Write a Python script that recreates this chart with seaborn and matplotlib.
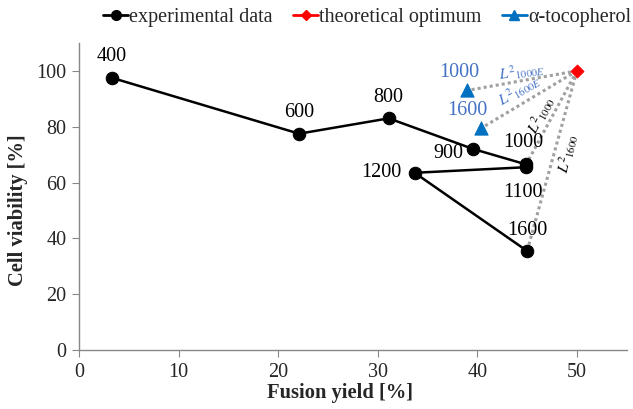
import matplotlib
matplotlib.use("Agg")
import matplotlib.pyplot as plt
import seaborn as sns
import pandas as pd
from matplotlib.lines import Line2D

# experimental data (order of the connecting line)
exp_labels = ["400", "600", "800", "900", "1000", "1100", "1200", "1600"]
exp_yield = [3.3, 22.1, 31.1, 39.6, 44.9, 44.9, 33.7, 45.0]
exp_viab = [97.5, 77.5, 83.0, 72.0, 66.5, 65.5, 63.5, 35.5]

# theoretical optimum
opt_yield = [50.0]
opt_viab = [100.0]

# alpha-tocopherol
toc_labels = ["1000", "1600"]
toc_yield = [39.0, 40.4]
toc_viab = [93.0, 79.5]

sns.set_style("white")
plt.rcParams["font.family"] = ["Liberation Serif", "DejaVu Serif"]
plt.rcParams["mathtext.fontset"] = "stix"

BLUE = "#0070C0"
TXTBLUE = "#4472C4"
GREY = "#A0A0A0"

df_exp = pd.DataFrame({"x": exp_yield, "y": exp_viab, "lab": exp_labels})
df_opt = pd.DataFrame({"x": opt_yield, "y": opt_viab})
df_toc = pd.DataFrame({"x": toc_yield, "y": toc_viab, "lab": toc_labels})

fig = plt.figure(figsize=(6.33, 4.09), dpi=100)
ax = fig.add_axes([0.125, 0.144, 0.865, 0.751])

# dotted distance lines from optimum
for xx, yy in list(zip(toc_yield, toc_viab)) + [(exp_yield[4], exp_viab[4]), (exp_yield[7], exp_viab[7])]:
    ax.plot([opt_yield[0], xx], [opt_viab[0], yy], color=GREY, lw=2.2,
            linestyle=(0, (1, 1)), zorder=1)

sns.lineplot(data=df_exp, x="x", y="y", sort=False, estimator=None, ax=ax,
             color="black", lw=1.8, marker="o", markersize=9,
             markeredgecolor="black", zorder=3)
sns.scatterplot(data=df_opt, x="x", y="y", ax=ax, marker="D", s=45,
                color="red", edgecolor="red", zorder=4)
sns.scatterplot(data=df_toc, x="x", y="y", ax=ax, marker="^", s=90,
                color=BLUE, edgecolor=BLUE, zorder=4)

# point labels (offsets in points)
offs = {"400": (0, 15.5), "600": (0, 15), "800": (0, 15), "900": (-18, -3.5),
        "1000": (-2, 16), "1100": (-2, -18), "1200": (-24, 0), "1600": (0, 15)}
for xx, yy, lab in zip(exp_yield, exp_viab, exp_labels):
    dx, dy = offs[lab]
    ax.annotate(lab, (xx, yy), xytext=(dx, dy), textcoords="offset points",
                ha="center", va="center", fontsize=14.5, color="black", zorder=5)

toffs = {"1000": (-6, 13), "1600": (-10, 13)}
for xx, yy, lab in zip(toc_yield, toc_viab, toc_labels):
    dx, dy = toffs[lab]
    ax.annotate(lab, (xx, yy), xytext=(dx, dy), textcoords="offset points",
                ha="center", va="center", fontsize=14.5, color=TXTBLUE, zorder=5)

# distance labels
ax.text(44.5, 99.8, r"$L^2{}_{1000E}$", color=TXTBLUE, fontsize=11,
        rotation=8, ha="center", va="center")
ax.text(44.2, 93.0, r"$L^2{}_{1600E}$", color=TXTBLUE, fontsize=11,
        rotation=30, ha="center", va="center")
ax.text(46.4, 84.0, r"$L^2{}_{1000}$", color="black", fontsize=11,
        rotation=62, ha="center", va="center")
ax.text(49.1, 70.3, r"$L^2{}_{1600}$", color="black", fontsize=11,
        rotation=76, ha="center", va="center")

ax.set_xlim(0, 55)
ax.set_ylim(0, 110)
ax.set_xticks(range(0, 51, 10))
ax.set_yticks(range(0, 101, 20))
ax.tick_params(labelsize=14.5, direction="out", length=5, color="#888888",
               left=True, bottom=True, pad=4)
for s in ["top", "right"]:
    ax.spines[s].set_visible(False)
for s in ["left", "bottom"]:
    ax.spines[s].set_color("#888888")
    ax.spines[s].set_linewidth(1)

ax.set_xlabel("Fusion yield [%]", fontsize=14.8, fontweight="bold")
ax.set_ylabel("Cell viability [%]", fontsize=14.8, fontweight="bold")
ax.xaxis.set_label_coords(0.476, -0.108)
ax.yaxis.set_label_coords(-0.093, 0.456)

handles = [
    Line2D([], [], color="black", lw=2, marker="o", markersize=7),
    Line2D([], [], color="red", lw=2, marker="D", markersize=5),
    Line2D([], [], color=BLUE, lw=2, marker="^", markersize=7),
]
fig.legend(handles, ["experimental data", "theoretical optimum", "\u03b1-tocopherol"],
           loc="center", bbox_to_anchor=(0.58, 0.958), ncol=3, frameon=False,
           fontsize=14.5, handlelength=1.25, handletextpad=0.05, columnspacing=1.0)

fig.savefig("out.png", dpi=100)
